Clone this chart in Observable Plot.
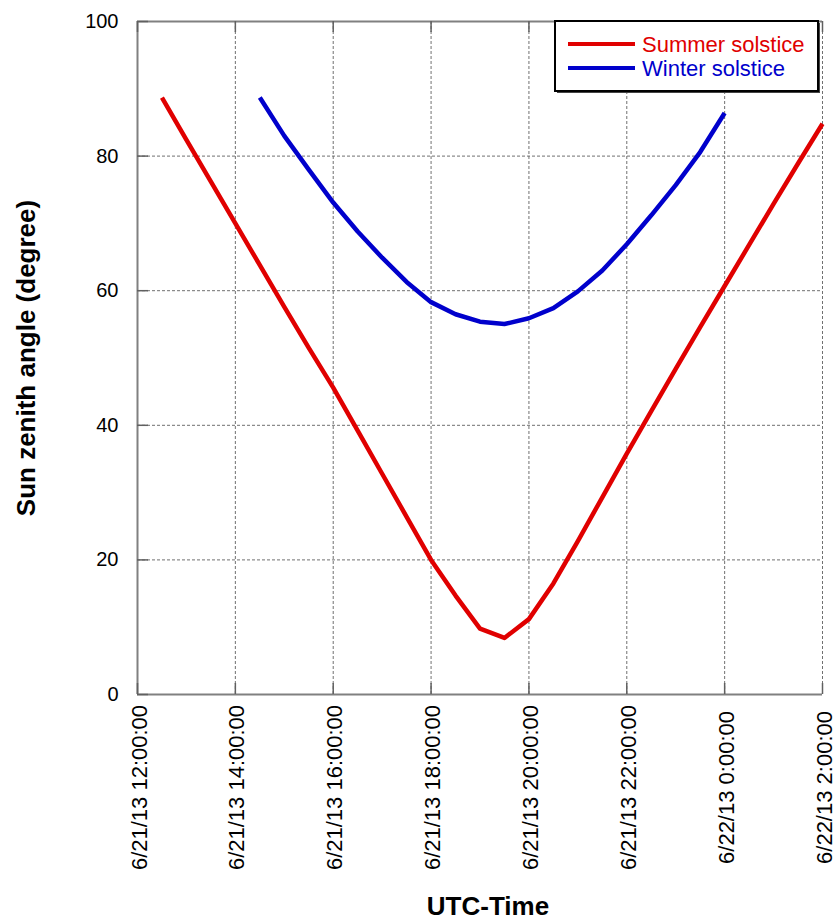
<!DOCTYPE html>
<html>
<head>
<meta charset="utf-8">
<script src="https://cdn.jsdelivr.net/npm/d3@7"></script>
<script src="https://cdn.jsdelivr.net/npm/@observablehq/plot@0.6"></script>
<style>
  body { margin: 0; background: #fff; }
  #chart { width: 836px; height: 921px; }
</style>
</head>
<body>
<div id="chart"></div>
<script>
// Sun zenith angle, half-hourly, UTC
const summerTimes = [
  "2013-06-21T12:30Z", "2013-06-21T13:00Z", "2013-06-21T13:30Z", "2013-06-21T14:00Z",
  "2013-06-21T14:30Z", "2013-06-21T15:00Z", "2013-06-21T15:30Z", "2013-06-21T16:00Z",
  "2013-06-21T16:30Z", "2013-06-21T17:00Z", "2013-06-21T17:30Z", "2013-06-21T18:00Z",
  "2013-06-21T18:30Z", "2013-06-21T19:00Z", "2013-06-21T19:30Z", "2013-06-21T20:00Z",
  "2013-06-21T20:30Z", "2013-06-21T21:00Z", "2013-06-21T21:30Z", "2013-06-21T22:00Z",
  "2013-06-21T22:30Z", "2013-06-21T23:00Z", "2013-06-21T23:30Z", "2013-06-22T00:00Z",
  "2013-06-22T00:30Z", "2013-06-22T01:00Z", "2013-06-22T01:30Z", "2013-06-22T02:00Z"
];
const summerZenith = [
  88.7, 82.4, 76.2, 70.0, 63.8, 57.6, 51.5, 45.6, 39.2, 32.8, 26.4, 20.0, 14.7, 9.8,
  8.4, 11.2, 16.5, 22.8, 29.3, 35.8, 42.1, 48.4, 54.6, 60.7, 66.8, 72.9, 78.9, 84.8
];

const winterTimes = [
  "2013-06-21T14:30Z", "2013-06-21T15:00Z", "2013-06-21T15:30Z", "2013-06-21T16:00Z",
  "2013-06-21T16:30Z", "2013-06-21T17:00Z", "2013-06-21T17:30Z", "2013-06-21T18:00Z",
  "2013-06-21T18:30Z", "2013-06-21T19:00Z", "2013-06-21T19:30Z", "2013-06-21T20:00Z",
  "2013-06-21T20:30Z", "2013-06-21T21:00Z", "2013-06-21T21:30Z", "2013-06-21T22:00Z",
  "2013-06-21T22:30Z", "2013-06-21T23:00Z", "2013-06-21T23:30Z", "2013-06-22T00:00Z"
];
const winterZenith = [
  88.7, 83.0, 78.0, 73.1, 68.8, 64.9, 61.3, 58.3, 56.5, 55.4,
  55.05, 55.9, 57.4, 59.9, 63.0, 66.9, 71.2, 75.7, 80.6, 86.4
];

const seriesNames = ["Summer solstice", "Winter solstice"];
const seriesColors = ["#e00000", "#0000cc"];

const xTickTimes = [
  "2013-06-21T12:00Z", "2013-06-21T14:00Z", "2013-06-21T16:00Z", "2013-06-21T18:00Z",
  "2013-06-21T20:00Z", "2013-06-21T22:00Z", "2013-06-22T00:00Z", "2013-06-22T02:00Z"
];
const xTickLabels = [
  "6/21/13 12:00:00", "6/21/13 14:00:00", "6/21/13 16:00:00", "6/21/13 18:00:00",
  "6/21/13 20:00:00", "6/21/13 22:00:00", "6/22/13 0:00:00", "6/22/13 2:00:00"
];
const yTicks = [0, 20, 40, 60, 80, 100];

const parse = d3.isoParse;
const rows = [
  ...summerTimes.map((t, i) => ({time: parse(t), zenith: summerZenith[i], series: seriesNames[0]})),
  ...winterTimes.map((t, i) => ({time: parse(t), zenith: winterZenith[i], series: seriesNames[1]}))
];
const ticks = xTickTimes.map(parse);

const width = 836, height = 921;
const margin = {top: 21, right: 14, bottom: 227, left: 137};
const plotW = width - margin.left - margin.right;
const plotH = height - margin.top - margin.bottom;
const tickLen = 11;
const font = "'Liberation Sans', Arial, sans-serif";

const svg = Plot.plot({
  width, height,
  marginTop: margin.top, marginRight: margin.right,
  marginBottom: margin.bottom, marginLeft: margin.left,
  style: {fontFamily: font, background: "#fff", overflow: "visible"},
  x: {type: "utc", domain: [ticks[0], ticks[ticks.length - 1]], axis: null},
  y: {domain: [0, 100], axis: null},
  color: {domain: seriesNames, range: seriesColors},
  marks: [
    // dashed grid
    Plot.gridX(ticks, {stroke: "#707070", strokeOpacity: 1, strokeWidth: 1, strokeDasharray: "3,2"}),
    Plot.gridY(yTicks, {stroke: "#707070", strokeOpacity: 1, strokeWidth: 1, strokeDasharray: "3,2"}),
    // frame: left, top and bottom edges
    Plot.ruleX([ticks[0]], {stroke: "#808080", strokeWidth: 2}),
    Plot.ruleY([0, 100], {stroke: "#808080", strokeWidth: 2}),
    // inward tick marks
    Plot.tickX(ticks, {x: d => d, insetTop: plotH - tickLen, stroke: "#606060", strokeWidth: 1.5}),
    Plot.tickX(ticks, {x: d => d, insetBottom: plotH - tickLen, stroke: "#606060", strokeWidth: 1.5}),
    Plot.tickY(yTicks, {y: d => d, insetRight: plotW - tickLen, stroke: "#606060", strokeWidth: 1.5}),
    // series
    Plot.line(rows, {x: "time", y: "zenith", stroke: "series", z: "series",
      strokeWidth: 4.5, strokeLinejoin: "round", strokeLinecap: "butt"}),
    // y tick labels
    Plot.text(yTicks, {y: d => d, text: d => String(d), frameAnchor: "left",
      textAnchor: "end", dx: -19, fontSize: 20, fill: "#000"}),
    // x tick labels, rotated
    Plot.text(ticks, {x: d => d, text: (d, i) => xTickLabels[i], frameAnchor: "bottom",
      rotate: -90, textAnchor: "middle", dy: 93, dx: 9, fontSize: 22, fill: "#000"}),
    // axis titles
    Plot.text(["Sun zenith angle (degree)"], {frameAnchor: "left", rotate: -90, textAnchor: "middle",
      dx: -111, fontSize: 26, fontWeight: "bold", fill: "#000"}),
    Plot.text(["UTC-Time"], {frameAnchor: "bottom", textAnchor: "middle", dx: 8, dy: 220,
      fontSize: 26, fontWeight: "bold", fill: "#000"})
  ]
});

// legend box inside the plot area
const g = d3.select(svg).append("g").attr("font-family", font).attr("text-anchor", "start");
const box = {x: 555, y: 21, w: 263, h: 70};
g.append("rect").attr("x", box.x + 2).attr("y", box.y + 2).attr("width", box.w).attr("height", box.h)
  .attr("fill", "#444");
g.append("rect").attr("x", box.x).attr("y", box.y).attr("width", box.w).attr("height", box.h)
  .attr("fill", "#fff").attr("stroke", "#000").attr("stroke-width", 2);
seriesNames.forEach((name, i) => {
  const yy = 44 + i * 24;
  g.append("line").attr("x1", 568).attr("x2", 635).attr("y1", yy).attr("y2", yy)
    .attr("stroke", seriesColors[i]).attr("stroke-width", 4);
  g.append("text").attr("x", 642).attr("y", yy + 8).attr("font-size", 22)
    .attr("fill", seriesColors[i]).text(name);
});

document.getElementById("chart").appendChild(svg);
</script>
</body>
</html>
